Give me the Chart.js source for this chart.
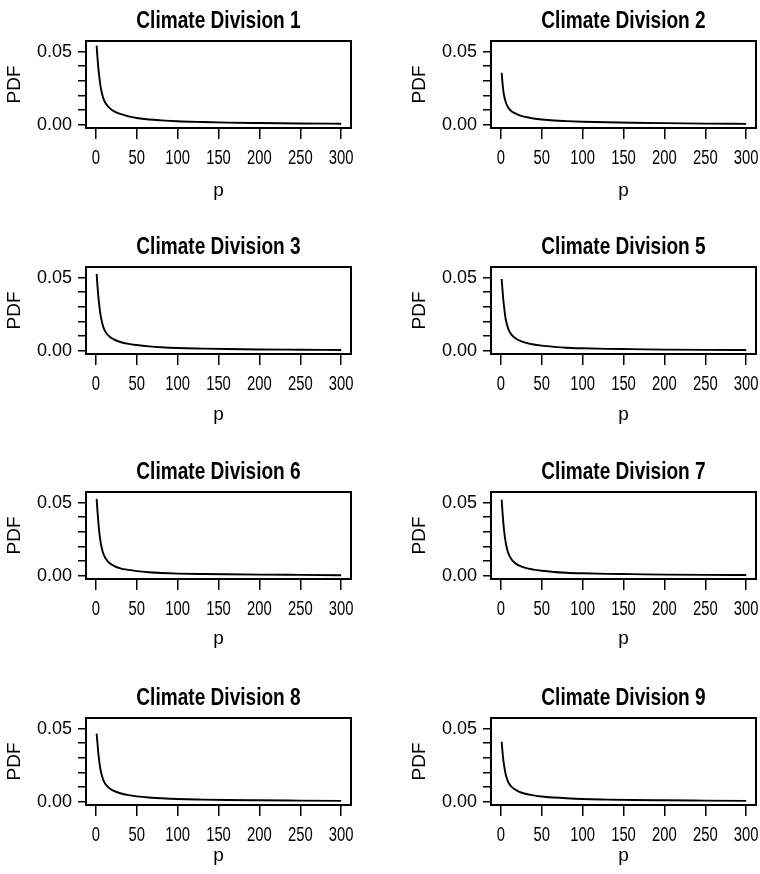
<!DOCTYPE html>
<html lang="en">
<head>
    <meta charset="UTF-8">
    <title>Climate Division PDFs</title>
    <script src="https://cdn.jsdelivr.net/npm/chart.js"></script>
    <style>
        * {
            margin: 0;
            padding: 0;
            box-sizing: border-box;
        }
        body {
            background: #ffffff;
            overflow: hidden;
        }
        #wrap {
            position: relative;
            width: 760px;
            height: 874px;
            overflow: hidden;
            background: #ffffff;
        }
        #wrap canvas {
            position: absolute;
        }
    </style>
</head>
<body>
    <div id="wrap"></div>

    <script>
        // p grid shared by every panel
        const pValues = [1, 2, 3, 4, 6, 8, 10, 13, 17, 22, 30, 40, 50, 65, 80, 100, 130, 160, 200, 250, 300];

        const titles = ["Climate Division 1", "Climate Division 2", "Climate Division 3", "Climate Division 5",
                        "Climate Division 6", "Climate Division 7", "Climate Division 8", "Climate Division 9"];

        const div1 = [0.054, 0.046, 0.0392, 0.034, 0.0255, 0.0203, 0.0168, 0.0138, 0.0114, 0.0093, 0.0074, 0.0057, 0.0046, 0.0036, 0.0030, 0.0024, 0.0019, 0.0015, 0.0012, 0.0009, 0.0007];
        const div2 = [0.0355, 0.029, 0.0235, 0.020, 0.0155, 0.0128, 0.0110, 0.0093, 0.0080, 0.0066, 0.0054, 0.0043, 0.0036, 0.0029, 0.0025, 0.0021, 0.0017, 0.0014, 0.0011, 0.0008, 0.0006];
        const div3 = [0.0525, 0.0445, 0.0375, 0.032, 0.0236, 0.0185, 0.0150, 0.0120, 0.0096, 0.0078, 0.0060, 0.0047, 0.0039, 0.0030, 0.0024, 0.0019, 0.0015, 0.0012, 0.0009, 0.0007, 0.0005];
        const div5 = [0.049, 0.042, 0.0352, 0.030, 0.0215, 0.0170, 0.0137, 0.0110, 0.0089, 0.0072, 0.0056, 0.0043, 0.0035, 0.0027, 0.0021, 0.0017, 0.0013, 0.0011, 0.0008, 0.0006, 0.0005];
        const div6 = [0.0525, 0.0445, 0.0372, 0.031, 0.0225, 0.0173, 0.0139, 0.0110, 0.0085, 0.0068, 0.0051, 0.0040, 0.0032, 0.0024, 0.0019, 0.0015, 0.0012, 0.0010, 0.0008, 0.0006, 0.0004];
        const div7 = [0.052, 0.044, 0.0368, 0.0308, 0.0226, 0.0176, 0.0142, 0.0113, 0.0089, 0.0071, 0.0054, 0.0042, 0.0034, 0.0026, 0.0021, 0.0017, 0.0013, 0.0011, 0.0008, 0.0006, 0.0005];
        const div8 = [0.0465, 0.040, 0.0335, 0.0285, 0.0212, 0.0168, 0.0138, 0.0112, 0.0091, 0.0074, 0.0058, 0.0045, 0.0037, 0.0029, 0.0024, 0.0019, 0.0015, 0.0012, 0.0010, 0.0008, 0.0006];
        const div9 = [0.041, 0.0345, 0.029, 0.0248, 0.0186, 0.0150, 0.0125, 0.0103, 0.0085, 0.0070, 0.0055, 0.0044, 0.0036, 0.0029, 0.0024, 0.0019, 0.0015, 0.0012, 0.0010, 0.0008, 0.0006];

        const xTicks = [0, 50, 100, 150, 200, 250, 300];
        const yTicks = [0, 0.01, 0.02, 0.03, 0.04, 0.05];
        const yTickLabels = ["0.00", "", "", "", "", "0.05"];

        const series = [div1, div2, div3, div5, div6, div7, div8, div9];

        // panel placement
        const colLeft = [0, 405];
        const rowTop = [0, 226, 451, 677];
        const pTitlePad = [23.5, 26, 27, 36];

        // "narrowx" is not a real font: it marks text that gets squeezed sideways
        // (no condensed face is installed, the reference uses one)
        const narrow = "narrowx, 'Liberation Sans', Arial, sans-serif";
        const regular = "'Liberation Sans', Arial, sans-serif";
        const squeeze = { bold: 0.795, normal: 0.74 };

        function patchText(ctx) {
            const orig = ctx.fillText;
            ctx.fillText = function (text, x, y, maxWidth) {
                if (this.font.indexOf("narrowx") < 0) {
                    return orig.call(this, text, x, y, maxWidth);
                }
                const k = this.font.indexOf("bold") >= 0 || this.font.indexOf("700") >= 0 ? squeeze.bold : squeeze.normal;
                this.save();
                this.translate(x, y);
                this.scale(k, 1);
                orig.call(this, text, 0, 0, maxWidth === undefined ? undefined : maxWidth / k);
                this.restore();
            };
        }

        const boxPlugin = {
            id: "box",
            afterDraw(chart) {
                const a = chart.chartArea;
                const ctx = chart.ctx;
                ctx.save();
                ctx.strokeStyle = "#000";
                ctx.lineWidth = 2;
                ctx.strokeRect(a.left, a.top, a.right - a.left, a.bottom - a.top);
                ctx.restore();
            }
        };

        function makePanel(i) {
            const row = Math.floor(i / 2), col = i % 2;
            const canvas = document.createElement("canvas");
            canvas.width = 380;
            canvas.height = 226;
            canvas.style.left = colLeft[col] + "px";
            canvas.style.top = rowTop[row] + "px";
            document.getElementById("wrap").appendChild(canvas);
            const ctx = canvas.getContext("2d");
            patchText(ctx);

            new Chart(ctx, {
                type: "line",
                data: {
                    datasets: [{
                        data: pValues.map((p, k) => ({ x: p, y: series[i][k] })),
                        borderColor: "#000",
                        borderWidth: 1.9,
                        pointRadius: 0,
                        cubicInterpolationMode: "monotone",
                        fill: false
                    }]
                },
                options: {
                    responsive: false,
                    animation: false,
                    layout: { padding: { left: 0, right: 29, top: 0, bottom: 0 } },
                    plugins: {
                        legend: { display: false },
                        tooltip: { enabled: false },
                        title: {
                            display: true,
                            text: titles[i],
                            fullSize: false,
                            color: "#000",
                            font: { family: narrow, weight: "bold", size: 24 },
                            padding: { top: 7, bottom: 5.2 }
                        }
                    },
                    scales: {
                        x: {
                            type: "linear",
                            min: -12,
                            max: 312,
                            afterBuildTicks: s => { s.ticks = xTicks.map(v => ({ value: v })); },
                            afterFit: s => { s.height = 98; },
                            border: { display: false },
                            grid: { drawOnChartArea: false, drawTicks: true, tickLength: 11, color: "#000", lineWidth: 1.5 },
                            ticks: {
                                color: "#000",
                                autoSkip: false,
                                maxRotation: 0,
                                padding: 7,
                                font: { family: narrow, size: 20 },
                                callback: v => String(v)
                            },
                            title: {
                                display: true,
                                text: "p",
                                color: "#000",
                                font: { family: regular, size: 19 },
                                padding: { top: 0, bottom: pTitlePad[row] }
                            }
                        },
                        y: {
                            type: "linear",
                            min: -0.0022,
                            max: 0.0572,
                            afterBuildTicks: s => { s.ticks = yTicks.map(v => ({ value: v })); },
                            afterFit: s => { s.width = 86; },
                            border: { display: false },
                            grid: { drawOnChartArea: false, drawTicks: true, tickLength: 8, color: "#000", lineWidth: 1.5 },
                            ticks: {
                                color: "#000",
                                autoSkip: false,
                                padding: 6,
                                font: { family: regular, size: 18 },
                                callback: (v, idx) => yTickLabels[idx]
                            },
                            title: {
                                display: true,
                                text: "PDF",
                                color: "#000",
                                font: { family: regular, size: 19 },
                                padding: { top: 3.6, bottom: 0 }
                            }
                        }
                    }
                },
                plugins: [boxPlugin]
            });
        }

        for (let i = 0; i < titles.length; i++) {
            makePanel(i);
        }
    </script>
</body>
</html>
